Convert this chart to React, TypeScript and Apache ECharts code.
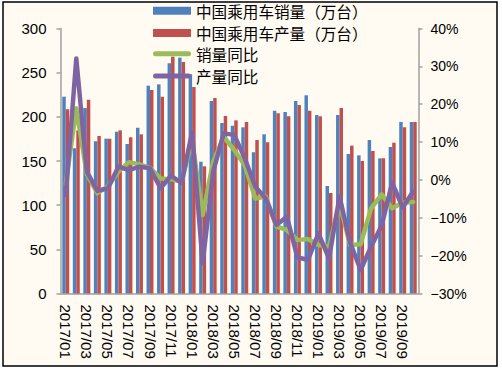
import React, { useEffect, useRef } from "react";
import * as echarts from "echarts";

const categories = [
  "2017/01", "2017/02", "2017/03", "2017/04", "2017/05", "2017/06", "2017/07", "2017/08", "2017/09", "2017/10", "2017/11", "2017/12",
  "2018/01", "2018/02", "2018/03", "2018/04", "2018/05", "2018/06", "2018/07", "2018/08", "2018/09", "2018/10", "2018/11", "2018/12",
  "2019/01", "2019/02", "2019/03", "2019/04", "2019/05", "2019/06", "2019/07", "2019/08", "2019/09", "2019/10",
];

const salesVolume = [
  222.8, 164.4, 210.0, 172.3, 175.3, 183.2, 169.2, 187.7, 235.3, 236.8, 260.6, 267.0,
  248.1, 149.2, 217.9, 193.0, 190.0, 188.1, 159.8, 180.2, 207.0, 205.5, 217.9, 224.4,
  202.1, 121.7, 202.1, 158.0, 156.4, 173.8, 153.0, 165.8, 194.2, 194.2,
];

const productionVolume = [
  208.5, 184.7, 219.4, 178.3, 175.3, 184.7, 176.8, 180.2, 230.4, 222.8, 268.1, 262.0,
  233.8, 144.0, 221.3, 200.9, 196.0, 194.2, 173.8, 171.2, 204.0, 200.6, 213.4, 207.0,
  200.6, 113.8, 210.0, 167.4, 150.0, 161.3, 153.0, 170.7, 188.1, 194.2,
];

const salesYoY = [
  -1.0, 18.9, 1.5, -3.5, -1.7, 2.2, 4.7, 4.1, 3.2, 0.4, 0.2, -0.5,
  10.5, -9.3, 4.8, 11.4, 7.9, 3.9, -4.9, -4.4, -12.3, -13.2, -15.9, -15.6,
  -17.2, -17.6, -6.2, -17.2, -17.0, -7.5, -3.8, -7.5, -6.0, -5.8,
];

const productionYoY = [
  -4.0, 32.1, 2.2, -2.9, -2.2, 3.5, 2.6, 3.5, 3.1, -2.2, 1.1, -0.8,
  12.7, -22.0, 2.2, 12.3, 11.9, 5.7, -1.8, -4.9, -11.9, -9.7, -20.5, -21.1,
  -14.1, -20.7, -4.4, -16.5, -23.8, -17.6, -12.1, -0.7, -7.3, -3.0,
];

const seriesNames = ["中国乘用车销量（万台）", "中国乘用车产量（万台）", "销量同比", "产量同比"];

const capsule = "path://M2.5,0 L35.5,0 A2.5,2.5 0 0 1 35.5,5 L2.5,5 A2.5,2.5 0 0 1 2.5,0 Z";

export default function App() {
  const ref = useRef<HTMLDivElement>(null);
  useEffect(() => {
    document.body.style.margin = "0";
    const chart = echarts.init(ref.current!, null, { renderer: "svg" });
    const axisFont = "'Liberation Sans', Arial, sans-serif";
    const legendText = {
      fontSize: 15.6,
      lineHeight: 15,
      color: "#000",
      fontFamily: "'Noto Sans CJK SC', sans-serif",
    };
    chart.setOption({
      animation: false,
      backgroundColor: "#ffffff",
      graphic: [
        {
          type: "rect",
          z: -10,
          silent: true,
          shape: { x: 3, y: 2, width: 494, height: 364 },
          style: { fill: "#FFFBF2", stroke: "#000000", lineWidth: 1.5 },
        },
      ],
      grid: { left: 60.5, top: 28.5, width: 358, height: 265 },
      legend: [
        {
          orient: "vertical",
          left: 153,
          top: 3,
          padding: 0,
          itemWidth: 38,
          itemHeight: 8,
          itemGap: 6.5,
          textStyle: legendText,
          data: [
            { name: seriesNames[0], icon: "rect" },
            { name: seriesNames[1], icon: "rect" },
          ],
        },
        {
          orient: "vertical",
          left: 153,
          top: 46,
          padding: 0,
          itemWidth: 38,
          itemHeight: 5,
          itemGap: 6.5,
          textStyle: legendText,
          data: [
            { name: seriesNames[2], icon: capsule },
            { name: seriesNames[3], icon: capsule },
          ],
        },
      ],
      xAxis: {
        type: "category",
        data: categories,
        boundaryGap: true,
        axisLine: { lineStyle: { color: "#A0A0A0", width: 1.5 } },
        axisTick: { interval: 1, length: 4, lineStyle: { color: "#A0A0A0", width: 1.5 } },
        axisLabel: {
          interval: 1,
          rotate: -90,
          margin: 11,
          fontSize: 15,
          color: "#000",
          fontFamily: axisFont,
        },
      },
      yAxis: [
        {
          type: "value",
          min: 0,
          max: 300,
          interval: 50,
          splitLine: { show: false },
          axisLine: { show: true, lineStyle: { color: "#A0A0A0", width: 1.5 } },
          axisTick: { show: true, length: 4, lineStyle: { color: "#A0A0A0", width: 1.5 } },
          axisLabel: { margin: 14, fontSize: 15, color: "#000", fontFamily: axisFont },
        },
        {
          type: "value",
          min: -30,
          max: 40,
          interval: 10,
          position: "right",
          splitLine: { show: false },
          axisLine: { show: true, lineStyle: { color: "#A0A0A0", width: 1.5 } },
          axisTick: { show: true, length: 4, lineStyle: { color: "#A0A0A0", width: 1.5 } },
          axisLabel: {
            margin: 12,
            fontSize: 14,
            color: "#000",
            fontFamily: axisFont,
            formatter: (v: number) => `${v}%`.replace("-", "−"),
          },
        },
      ],
      series: [
        {
          name: seriesNames[0],
          type: "bar",
          data: salesVolume,
          barWidth: "33%",
          barGap: "0%",
          itemStyle: { color: "#4F81BD" },
        },
        {
          name: seriesNames[1],
          type: "bar",
          data: productionVolume,
          barWidth: "33%",
          barGap: "0%",
          itemStyle: { color: "#C0504D" },
        },
        {
          name: seriesNames[2],
          type: "line",
          yAxisIndex: 1,
          data: salesYoY,
          symbol: "none",
          lineStyle: { color: "#9BBB59", width: 4.5, cap: "round", join: "round" },
          itemStyle: { color: "#9BBB59" },
        },
        {
          name: seriesNames[3],
          type: "line",
          yAxisIndex: 1,
          data: productionYoY,
          symbol: "none",
          lineStyle: { color: "#8064A2", width: 4.5, cap: "round", join: "round" },
          itemStyle: { color: "#8064A2" },
        },
      ],
    });
    return () => chart.dispose();
  }, []);
  return <div ref={ref} style={{ position: "absolute", left: 0, top: 0, width: 502, height: 371 }} />;
}
